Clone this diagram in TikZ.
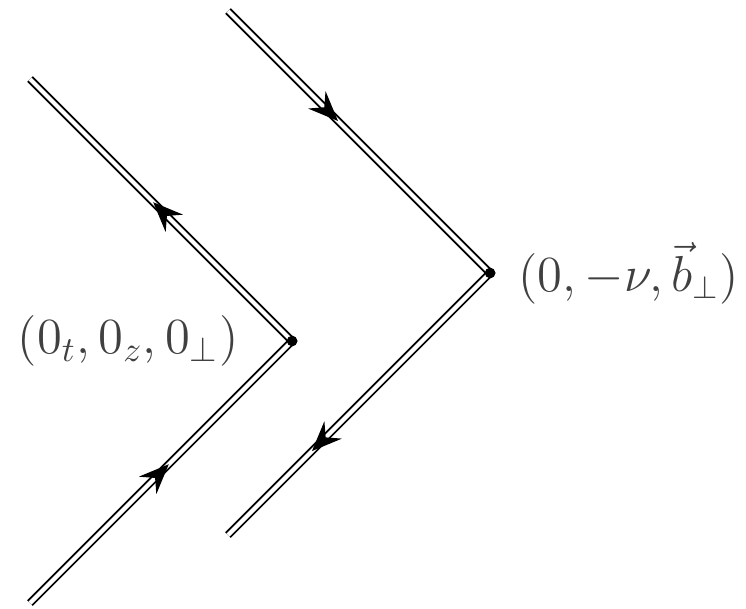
\documentclass[tikz,border=0pt]{standalone}
\usepackage{amsmath}
\usetikzlibrary{arrows.meta,positioning,decorations.markings}

\begin{document}
\begin{tikzpicture}[
    wline/.style={draw=black, double=white, double distance=1.2pt, line width=0.55pt},
    vdot/.style={circle, fill=black, inner sep=0pt, minimum size=3pt},
    flowmark/.style={decoration={markings, mark=at position #1 with
                     {\arrow{Stealth[length=8.5pt, width=7pt, inset=3pt]}}}, decorate},
    lbl/.style={text=black!75, inner sep=0pt}
  ]
  \useasboundingbox (0,0) rectangle (7.46,6.08);
  % vertices and free ends
  \node[vdot] (vtxA) at (2.92,2.67) {};
  \node[vdot] (vtxB) at (4.90,3.35) {};
  \coordinate (inA) at (0.30,0.05);
  \coordinate (outA) at (0.30,5.29);
  \coordinate (inB) at (2.28,5.97);
  \coordinate (outB) at (2.28,0.73);
  % double lines
  \draw[wline] (inA) -- (vtxA.center) -- (outA);
  \draw[wline] (inB) -- (vtxB.center) -- (outB);
  \node[vdot] at (vtxA) {};
  \node[vdot] at (vtxB) {};
  % arrows
  \path[flowmark=0.53] (inA) -- (vtxA.center);
  \path[flowmark=0.53] (vtxA.center) -- (outA);
  \path[flowmark=0.42] (inB) -- (vtxB.center);
  \path[flowmark=0.68] (vtxB.center) -- (outB);
  % labels
  \node[lbl, font=\fontsize{14.3}{17}\selectfont, left=0.47cm of vtxA] (lblA) {$(0_t,0_z,0_\perp)$};
  \node[lbl, font=\fontsize{13.3}{16}\selectfont, right=0.22cm of vtxB] (lblB) {$(0,-\nu,\vec{b}_\perp)$};
\end{tikzpicture}
\end{document}
